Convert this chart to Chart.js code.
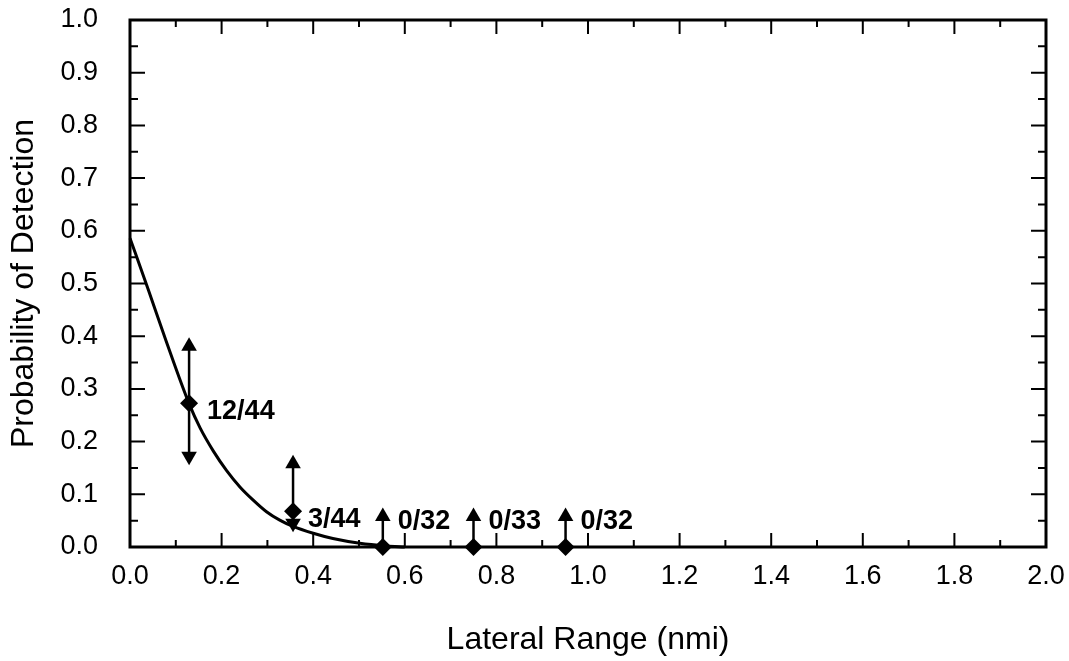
<!DOCTYPE html>
<html>
<head>
<meta charset="utf-8">
<script src="https://cdn.jsdelivr.net/npm/chart.js@4/dist/chart.umd.min.js"></script>
<style>
  body { margin: 0; background: #fff; }
</style>
</head>
<body>
<canvas id="myChart" width="1069" height="661"></canvas>
<script>
// observed detections (range in nmi, fraction detected)
const rangeX = [0.129, 0.356, 0.552, 0.750, 0.951];
const probY = [0.273, 0.068, 0, 0, 0];
const upperY = [0.381, 0.158, 0.058, 0.058, 0.058];
const lowerY = [0.172, 0.045, 0, 0, 0];
const pointLabels = ['12/44', '3/44', '0/32', '0/33', '0/32'];

// fitted lateral range curve
const curveX = [0, 0.04, 0.08, 0.129, 0.153, 0.182, 0.211, 0.240, 0.269, 0.298, 0.327, 0.356, 0.400, 0.443, 0.502, 0.560, 0.600];
const curveY = [0.586, 0.488, 0.388, 0.272, 0.226, 0.182, 0.145, 0.114, 0.089, 0.067, 0.051, 0.039, 0.026, 0.016, 0.007, 0.002, 0];

const xTicks = [0, 0.2, 0.4, 0.6, 0.8, 1.0, 1.2, 1.4, 1.6, 1.8, 2.0];
const xMinor = [0.1, 0.3, 0.5, 0.7, 0.9, 1.1, 1.3, 1.5, 1.7, 1.9];
const yTicks = [0, 0.1, 0.2, 0.3, 0.4, 0.5, 0.6, 0.7, 0.8, 0.9, 1.0];
const yMinor = [0.05, 0.15, 0.25, 0.35, 0.45, 0.55, 0.65, 0.75, 0.85, 0.95];

const FONT = 'Liberation Sans, Arial, sans-serif';

// frame + inward ticks on all four sides
const framePlugin = {
    id: 'frame',
    beforeDatasetsDraw(chart) {
        const { ctx, chartArea: a, scales: { x, y } } = chart;
        ctx.save();
        ctx.strokeStyle = '#000';
        ctx.lineWidth = 2;
        const tickX = (v, len) => {
            const px = x.getPixelForValue(v);
            ctx.beginPath();
            ctx.moveTo(px, a.bottom); ctx.lineTo(px, a.bottom - len);
            ctx.moveTo(px, a.top); ctx.lineTo(px, a.top + len);
            ctx.stroke();
        };
        const tickY = (v, len) => {
            const py = y.getPixelForValue(v);
            ctx.beginPath();
            ctx.moveTo(a.left, py); ctx.lineTo(a.left + len, py);
            ctx.moveTo(a.right, py); ctx.lineTo(a.right - len, py);
            ctx.stroke();
        };
        xTicks.forEach(v => tickX(v, 14));
        xMinor.forEach(v => tickX(v, 7));
        yTicks.forEach(v => tickY(v, 15));
        yMinor.forEach(v => tickY(v, 8));
        ctx.lineWidth = 3;
        ctx.strokeRect(a.left, a.top, a.right - a.left, a.bottom - a.top);
        ctx.restore();
    }
};

// n/N labels next to each observation
const labelPlugin = {
    id: 'pointLabels',
    afterDatasetsDraw(chart) {
        const { ctx, scales: { x, y } } = chart;
        ctx.save();
        ctx.font = 'bold 27px ' + FONT;
        ctx.fillStyle = '#000';
        ctx.textBaseline = 'middle';
        ctx.textAlign = 'left';
        rangeX.forEach((rx, i) => {
            const px = x.getPixelForValue(rx);
            const py = y.getPixelForValue(probY[i]);
            const dy = probY[i] > 0 ? 8 : -25;
            ctx.fillText(pointLabels[i], px + (i === 0 ? 18 : 15), py + dy);
        });
        ctx.restore();
    }
};

const errorSets = rangeX.map((rx, i) => ({
    type: 'line',
    data: [{ x: rx, y: lowerY[i] }, { x: rx, y: upperY[i] }],
    borderColor: '#000',
    backgroundColor: '#000',
    borderWidth: 2.5,
    pointStyle: 'triangle',
    pointRotation: [180, 0],
    pointRadius: [lowerY[i] > 0 ? 9 : 0, 9],
    pointBorderWidth: 0,
    clip: false
}));

const ctx = document.getElementById('myChart');
new Chart(ctx, {
    type: 'scatter',
    data: {
        datasets: [
            {
                type: 'line',
                data: curveX.map((v, i) => ({ x: v, y: curveY[i] })),
                borderColor: '#000',
                borderWidth: 3,
                pointRadius: 0,
                cubicInterpolationMode: 'monotone',
                clip: false
            },
            ...errorSets,
            {
                data: rangeX.map((v, i) => ({ x: v, y: probY[i] })),
                pointStyle: 'rectRot',
                pointRadius: 9,
                pointBorderWidth: 0,
                backgroundColor: '#000',
                borderColor: '#000',
                clip: false
            }
        ]
    },
    options: {
        responsive: false,
        animation: false,
        events: [],
        layout: { padding: { top: 20, right: 23, left: 0, bottom: 0 } },
        plugins: { legend: { display: false }, tooltip: { enabled: false } },
        scales: {
            x: {
                type: 'linear',
                min: 0,
                max: 2,
                afterBuildTicks: s => { s.ticks = xTicks.map(v => ({ value: v })); },
                afterFit: s => { s.height = 114; s.paddingLeft = 0; s.paddingRight = 0; },
                grid: { display: false, drawTicks: false },
                border: { display: false },
                ticks: {
                    callback: v => v.toFixed(1),
                    font: { family: FONT, size: 27 },
                    color: '#000',
                    padding: 13,
                    maxRotation: 0,
                    autoSkip: false
                },
                title: {
                    display: true,
                    text: 'Lateral Range (nmi)',
                    font: { family: FONT, size: 32 },
                    color: '#000',
                    padding: { top: 0, bottom: 2 }
                }
            },
            y: {
                type: 'linear',
                min: 0,
                max: 1,
                afterBuildTicks: s => { s.ticks = yTicks.map(v => ({ value: v })); },
                afterFit: s => { s.width = 130; s.paddingTop = 0; s.paddingBottom = 0; },
                grid: { display: false, drawTicks: false },
                border: { display: false },
                ticks: {
                    callback: v => v.toFixed(1),
                    font: { family: FONT, size: 27 },
                    color: '#000',
                    padding: 32,
                    autoSkip: false
                },
                title: {
                    display: true,
                    text: 'Probability of Detection',
                    font: { family: FONT, size: 32 },
                    color: '#000',
                    padding: { top: 5, bottom: 0 }
                }
            }
        }
    },
    plugins: [framePlugin, labelPlugin]
});
</script>
</body>
</html>
